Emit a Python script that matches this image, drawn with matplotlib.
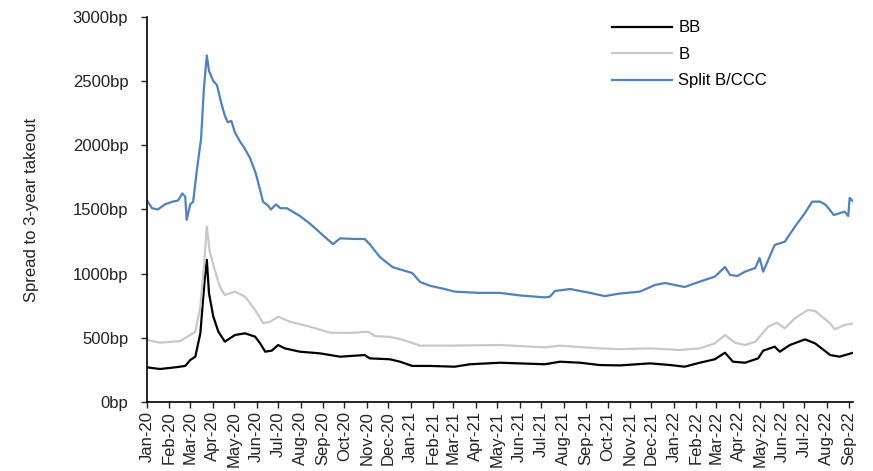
import matplotlib
matplotlib.use("Agg")
import matplotlib.pyplot as plt
import matplotlib.dates as mdates
import matplotlib.ticker as mticker
import pandas as pd

plt.rcParams['font.family'] = ['Liberation Sans', 'DejaVu Sans']

# --- Data ---
bb_dates = ["2020-01-01", "2020-01-19", "2020-02-09", "2020-02-23", "2020-03-01", "2020-03-08",
            "2020-03-15", "2020-03-21", "2020-03-24", "2020-03-27", "2020-04-02", "2020-04-09",
            "2020-04-18", "2020-05-02", "2020-05-16", "2020-05-30", "2020-06-06", "2020-06-13",
            "2020-06-22", "2020-07-01", "2020-07-10", "2020-07-31", "2020-08-28", "2020-09-25",
            "2020-10-29", "2020-11-05", "2020-12-03", "2020-12-17", "2021-01-03", "2021-01-28",
            "2021-03-03", "2021-03-24", "2021-05-05", "2021-07-06", "2021-07-27", "2021-08-24",
            "2021-09-20", "2021-10-18", "2021-11-29", "2021-12-27", "2022-01-16", "2022-02-06",
            "2022-02-27", "2022-03-13", "2022-03-24", "2022-04-10", "2022-04-28", "2022-05-05",
            "2022-05-21", "2022-05-28", "2022-06-11", "2022-07-02", "2022-07-16", "2022-08-06",
            "2022-08-19", "2022-09-07"]
bb_values = [270, 257, 270, 281, 327, 353, 535, 951, 1107, 847, 665, 548,
             470, 522, 535, 509, 457, 392, 400, 444, 418, 392, 379, 353,
             366, 340, 333, 314, 281, 281, 275, 294, 306, 294, 314, 306,
             288, 285, 301, 288, 275, 306, 333, 384, 314, 306, 340, 400,
             431, 392, 444, 488, 457, 366, 353, 384]

b_dates = ["2020-01-01", "2020-01-19", "2020-02-16", "2020-03-01", "2020-03-08", "2020-03-15",
           "2020-03-20", "2020-03-24", "2020-03-28", "2020-04-04", "2020-04-11", "2020-04-18",
           "2020-05-02", "2020-05-16", "2020-05-30", "2020-06-10", "2020-06-20", "2020-07-01",
           "2020-07-17", "2020-08-14", "2020-09-11", "2020-10-09", "2020-11-03", "2020-11-12",
           "2020-12-03", "2020-12-17", "2021-01-03", "2021-01-14", "2021-02-24", "2021-05-05",
           "2021-07-06", "2021-07-27", "2021-09-20", "2021-10-18", "2021-11-29", "2022-01-09",
           "2022-02-06", "2022-02-27", "2022-03-13", "2022-03-27", "2022-04-10", "2022-04-24",
           "2022-05-12", "2022-05-24", "2022-06-04", "2022-06-18", "2022-07-06", "2022-07-16",
           "2022-08-06", "2022-08-12", "2022-08-26", "2022-09-07"]
b_values = [483, 462, 475, 522, 548, 743, 1055, 1366, 1172, 1029, 899, 834,
            860, 821, 717, 615, 626, 665, 626, 587, 540, 538, 548, 514,
            507, 491, 460, 439, 439, 444, 426, 439, 418, 412, 418, 405,
            418, 457, 522, 462, 444, 470, 587, 618, 574, 652, 717, 709,
            613, 566, 600, 613]

ccc_dates = ["2020-01-01", "2020-01-08", "2020-01-16", "2020-01-26", "2020-02-05", "2020-02-13",
             "2020-02-19", "2020-02-23", "2020-02-25", "2020-03-01", "2020-03-05", "2020-03-10",
             "2020-03-16", "2020-03-20", "2020-03-24", "2020-03-27", "2020-04-02", "2020-04-07",
             "2020-04-13", "2020-04-18", "2020-04-22", "2020-04-27", "2020-05-02", "2020-05-09",
             "2020-05-15", "2020-05-23", "2020-05-31", "2020-06-06", "2020-06-10", "2020-06-17",
             "2020-06-21", "2020-06-28", "2020-07-04", "2020-07-13", "2020-07-31", "2020-08-14",
             "2020-08-28", "2020-09-15", "2020-09-25", "2020-10-16", "2020-10-29", "2020-11-05",
             "2020-11-19", "2020-12-07", "2021-01-03", "2021-01-14", "2021-01-28", "2021-02-17",
             "2021-03-03", "2021-04-07", "2021-05-05", "2021-06-02", "2021-07-06", "2021-07-13",
             "2021-07-20", "2021-08-10", "2021-09-07", "2021-09-27", "2021-10-18", "2021-11-15",
             "2021-12-06", "2021-12-20", "2022-01-16", "2022-02-06", "2022-02-27", "2022-03-13",
             "2022-03-20", "2022-03-30", "2022-04-10", "2022-04-24", "2022-04-30", "2022-05-05",
             "2022-05-21", "2022-06-04", "2022-06-18", "2022-07-02", "2022-07-12", "2022-07-23",
             "2022-07-31", "2022-08-11", "2022-08-26", "2022-08-31", "2022-09-02", "2022-09-07"]
ccc_values = [1570, 1510, 1500, 1540, 1560, 1570, 1625, 1600, 1420, 1540, 1560, 1800,
              2050, 2450, 2700, 2580, 2500, 2470, 2330, 2230, 2180, 2190, 2100, 2030,
              1980, 1900, 1780, 1650, 1560, 1530, 1500, 1540, 1510, 1510, 1450, 1390,
              1320, 1230, 1275, 1270, 1270, 1230, 1130, 1050, 1005, 935, 905, 880,
              860, 850, 850, 830, 815, 820, 865, 880, 850, 825, 845, 860,
              912, 927, 896, 938, 977, 1052, 990, 982, 1016, 1044, 1122, 1016,
              1224, 1249, 1366, 1473, 1561, 1561, 1535, 1457, 1483, 1449, 1590, 1561]

series_names = ["BB", "B", "Split B/CCC"]
series_colors = ["#000000", "#c8c8c8", "#4f81bd"]

fig = plt.figure(figsize=(8.73, 4.71), dpi=100)
ax = fig.add_axes([0.1684, 0.1465, 0.809, 0.8175])

for d, v, name, c in zip([bb_dates, b_dates, ccc_dates],
                         [bb_values, b_values, ccc_values],
                         series_names, series_colors):
    ax.plot(pd.to_datetime(d), v, color=c, lw=1.6, label=name)

ax.set_xlim(pd.Timestamp("2020-01-01"), pd.Timestamp("2022-09-07"))
ax.set_ylim(0, 3000)
ax.yaxis.set_major_locator(mticker.MultipleLocator(500))
ax.yaxis.set_major_formatter(mticker.FuncFormatter(lambda v, p: f"{int(v)}bp"))
ax.xaxis.set_major_locator(mdates.MonthLocator())
ax.xaxis.set_major_formatter(mdates.DateFormatter("%b-%y"))
for lab in ax.get_xticklabels():
    lab.set_rotation(90)

ax.tick_params(axis='both', labelsize=12, colors='#222222', length=4.5, width=1)
ax.tick_params(axis='y', pad=9)
ax.tick_params(axis='x', pad=2)
ax.spines['top'].set_visible(False)
ax.spines['right'].set_visible(False)
for s in ['left', 'bottom']:
    ax.spines[s].set_linewidth(1.2)
    ax.spines[s].set_color('black')

ax.set_ylabel("Spread to 3-year takeout", fontsize=12, color='#222222', labelpad=24)

leg = ax.legend(loc='upper left', bbox_to_anchor=(0.6365, 1.03), frameon=False,
                fontsize=12, handlelength=3.6, handletextpad=0.4, labelspacing=0.69)

fig.savefig("out.png", dpi=100)
